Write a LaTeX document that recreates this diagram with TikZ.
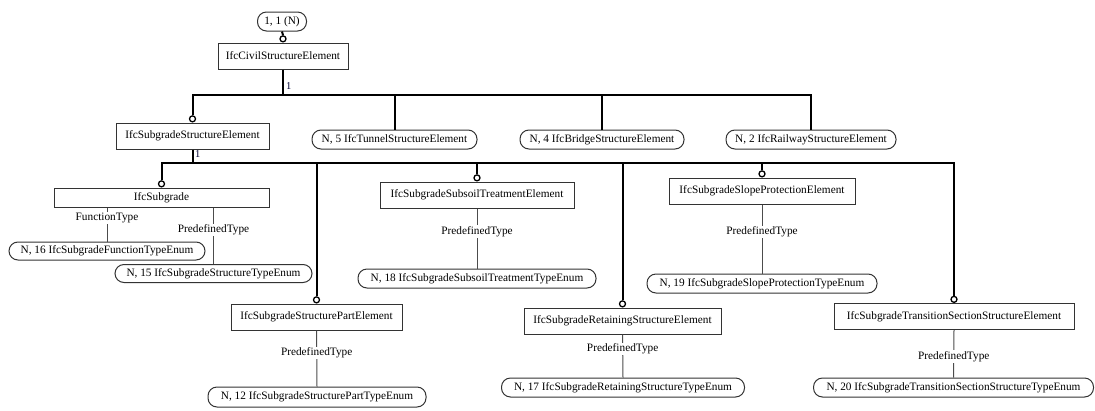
\documentclass[tikz,border=0pt]{standalone}
\usepackage{fontspec}
\setmainfont{Liberation Serif}
\begin{document}
\begin{tikzpicture}[x=1pt,y=-1pt,
 every node/.style={font=\fontsize{11.3}{12}\selectfont, inner sep=0pt, text=black},
 ent/.style={draw=black!80, line width=1pt, fill=white, minimum height=26pt},
 enm/.style={draw=black!80, line width=1pt, fill=white, rounded corners=9pt, minimum height=19pt},
 ring/.style={circle, draw=black, line width=1.3pt, fill=white, minimum size=6pt, inner sep=0pt},
 bus/.style={line width=2pt, black},
 attr/.style={line width=1pt, black!70},
 lab/.style={fill=white, inner sep=1pt, text=black},
 card/.style={font=\fontsize{10.5}{12}\selectfont, text=black!80!blue}
]
\useasboundingbox (0,0) rectangle (1095,410);

% nodes
\node[enm, minimum width=49] (top) at (282,21.5) {1, 1 (N)};
\node[ent, minimum width=130] (civ) at (283,56) {IfcCivilStructureElement};
\node[ent, minimum width=153] (sub) at (192.5,136) {IfcSubgradeStructureElement};
\node[enm, minimum width=165] (tun) at (394.5,139.5) {N, 5 IfcTunnelStructureElement};
\node[enm, minimum width=164] (bri) at (602,139.5) {N, 4 IfcBridgeStructureElement};
\node[enm, minimum width=170] (rail) at (811,139.5) {N, 2 IfcRailwayStructureElement};

\node[ent, minimum width=215, minimum height=19] (subg) at (161.5,197.5) {IfcSubgrade};
\node[enm, minimum width=196, minimum height=18] (e16) at (107,251) {N, 16 IfcSubgradeFunctionTypeEnum};
\node[enm, minimum width=197, minimum height=18] (e15) at (213.5,273.5) {N, 15 IfcSubgradeStructureTypeEnum};

\node[ent, minimum width=194] (soil) at (477,195) {IfcSubgradeSubsoilTreatmentElement};
\node[enm, minimum width=238] (e18) at (477,278.5) {N, 18 IfcSubgradeSubsoilTreatmentTypeEnum};

\node[ent, minimum width=186] (slope) at (762,191) {IfcSubgradeSlopeProtectionElement};
\node[enm, minimum width=230] (e19) at (762,283.5) {N, 19 IfcSubgradeSlopeProtectionTypeEnum};

\node[ent, minimum width=171] (part) at (316.5,317) {IfcSubgradeStructurePartElement};
\node[enm, minimum width=218, minimum height=20] (e12) at (317,397) {N, 12 IfcSubgradeStructurePartTypeEnum};

\node[ent, minimum width=197] (ret) at (622.5,321) {IfcSubgradeRetainingStructureElement};
\node[enm, minimum width=243] (e17) at (623,387.5) {N, 17 IfcSubgradeRetainingStructureTypeEnum};

\node[ent, minimum width=240] (trans) at (954,316.5) {IfcSubgradeTransitionSectionStructureElement};
\node[enm, minimum width=280] (e20) at (953.5,387.5) {N, 20 IfcSubgradeTransitionSectionStructureTypeEnum};

% rings
\node[ring, anchor=south] (r0) at (civ.north) {};
\node[ring, anchor=south] (r1) at (sub.north) {};
\node[ring, anchor=south] (rg) at (subg.north) {};
\node[ring, anchor=south] (rs) at (soil.north) {};
\node[ring, anchor=south] (rl) at (slope.north) {};
\node[ring, anchor=south] (rp) at (part.north) {};
\node[ring, anchor=south] (rr) at (ret.north) {};
\node[ring, anchor=south] (rt) at (trans.north) {};

% top link
\draw[bus] (top.south) -- (r0.north);

% first bus
\coordinate (b1) at (283,95);
\draw[bus] (civ.south) -- (b1);
\node[card, anchor=west] (c1) at (286,86) {1};
\draw[bus] (r1.north) |- (b1 -| rail.north) -- (rail.north);
\draw[bus] (b1 -| tun.north) -- (tun.north);
\draw[bus] (b1 -| bri.north) -- (bri.north);

% second bus
\coordinate (b2) at (192.5,163);
\draw[bus] (sub.south) -- (b2);
\node[card, anchor=west] (c2) at (195,154) {1};
\draw[bus] (rg.north) |- (b2 -| rt.north) -- (rt.north);
\draw[bus] (b2 -| rp.north) -- (rp.north);
\draw[bus] (b2 -| rs.north) -- (rs.north);
\draw[bus] (b2 -| rr.north) -- (rr.north);
\draw[bus] (b2 -| rl.north) -- (rl.north);

% attribute links
\draw[attr] (subg.south -| e16.north) -- node[lab, pos=0.31] (l16) {FunctionType} (e16.north);
\draw[attr] (subg.south -| e15.north) -- node[lab, pos=0.40] (l15) {PredefinedType} (e15.north);
\draw[attr] (soil.south) -- node[lab, pos=0.38] (l18) {PredefinedType} (e18.north);
\draw[attr] (slope.south) -- node[lab, pos=0.40] (l19) {PredefinedType} (e19.north);
\draw[attr] (part.south) -- node[lab, pos=0.40] (l12) {PredefinedType} (e12.north);
\draw[attr] (ret.south) -- node[lab, pos=0.34] (l17) {PredefinedType} (e17.north);
\draw[attr] (trans.south) -- node[lab, pos=0.56] (l20) {PredefinedType} (e20.north);
\end{tikzpicture}
\end{document}
